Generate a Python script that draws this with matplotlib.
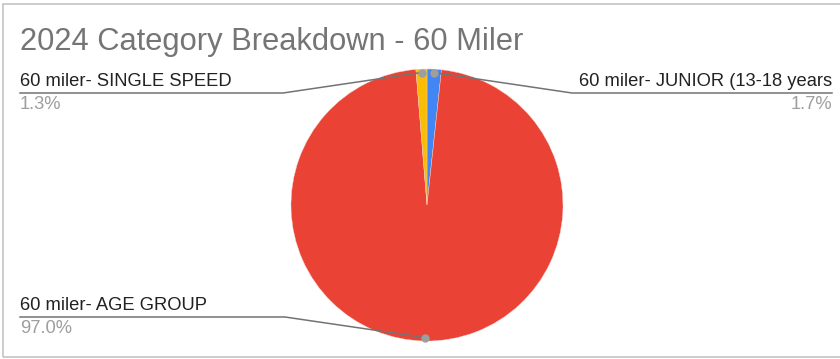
import numpy as np
import matplotlib.pyplot as plt
from matplotlib.patches import Rectangle

plt.rcParams['font.family'] = ['Liberation Sans', 'DejaVu Sans']

title = '2024 Category Breakdown - 60 Miler'
categories = ['60 miler- JUNIOR (13-18 years', '60 miler- AGE GROUP', '60 miler- SINGLE SPEED']
shares = [1.7, 97.0, 1.3]
colors = ['#4285F4', '#EA4335', '#FBBC04']

W, H = 840, 359
fig = plt.figure(figsize=(W / 100, H / 100), dpi=100)
ax = fig.add_axes([0, 0, 1, 1])
ax.set_xlim(0, W); ax.set_ylim(0, H)
ax.set_aspect('equal'); ax.axis('off')

# chart frame
ax.add_patch(Rectangle((3, 2), 900, 353, fill=False, ec='#c4c4c4', lw=1.2))

cx, cy, r = 427, H - 205, 136
ax.pie(shares, colors=colors, startangle=90, counterclock=False,
       center=(cx, cy), radius=r, wedgeprops=dict(ec='#f4d0cc', lw=0.3))
ax.set_xlim(0, W); ax.set_ylim(0, H)

ax.text(20, H - 42, title, fontsize=22.2, color='#757575', va='center', ha='left')

# label layout: (text x, underline y, elbow x, ha)
layout = {
    0: (832, H - 93, 572, 'right'),
    1: (20, H - 317, 285, 'left'),
    2: (20, H - 93, 283, 'left'),
}
total = sum(shares)
cum = 0
for i, (cat, v) in enumerate(zip(categories, shares)):
    mid = 90 - (cum + v / 2) / total * 360
    cum += v
    dx = cx + 0.975 * r * np.cos(np.radians(mid))
    dy = cy + 0.975 * r * np.sin(np.radians(mid))
    tx, ly, ex, ha = layout[i]
    ax.plot(dx, dy, 'o', ms=5, color='#9e9e9e', zorder=5)
    lx0 = 20 if ha == 'left' else 832
    ax.plot([dx, ex, lx0], [dy, ly, ly], color='#737373', lw=1.1, zorder=4)
    ax.text(tx, ly + 3, cat, fontsize=13.2, color='#222222', ha=ha, va='bottom')
    ax.text(tx, ly - 3, f'{v:.1f}%', fontsize=13.2, color='#9e9e9e', ha=ha, va='top')

fig.savefig('out.png', dpi=100)
